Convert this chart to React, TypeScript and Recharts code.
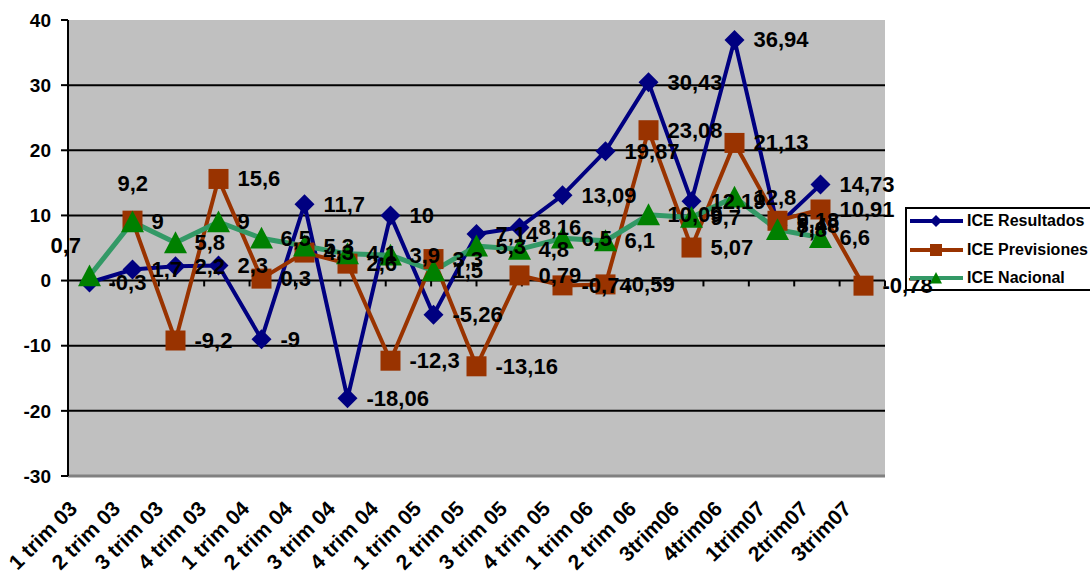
import {
  LineChart,
  Line,
  XAxis,
  YAxis,
  CartesianGrid,
  ReferenceArea,
  ReferenceLine,
  LabelList,
  Legend,
} from "recharts";

const categories = [
  "1 trim 03", "2 trim 03", "3 trim 03", "4 trim 03",
  "1 trim 04", "2 trim 04", "3 trim 04", "4 trim 04",
  "1 trim 05", "2 trim 05", "3 trim 05", "4 trim 05",
  "1 trim 06", "2 trim 06", "3trim06", "4trim06",
  "1trim07", "2trim07", "3trim07",
];
const resultados = [-0.3, 1.7, 2.2, 2.3, -9, 11.7, -18.06, 10, -5.26, 7.14, 8.16, 13.09, 19.87, 30.43, 12.19, 36.94, 8.48, 14.73, null];
const previsiones = [null, 9.2, -9.2, 15.6, 0.3, 4.3, 2.6, -12.3, 3.3, -13.16, 0.79, -0.74, -0.59, 23.08, 5.07, 21.13, 9.18, 10.91, -0.78];
const nacional = [0.7, 9, 5.8, 9, 6.5, 5.3, 4.1, 3.9, 1.5, 5.3, 4.8, 6.5, 6.1, 10.09, 9.7, 12.8, 7.8, 6.6, null];
const yTicks = [-30, -20, -10, 0, 10, 20, 30, 40];
const gridValues = [-20, -10, 0, 10, 20, 30];
const boundaries = [1, 2, 3, 4, 5, 6, 7, 8, 9, 10, 11, 12, 13, 14, 15, 16, 17, 18];

const RES = "#000080";
const PREV = "#993300";
const NAC_LINE = "#339966";
const NAC_MARK = "#008000";
const FONT = "'Liberation Sans', Arial, sans-serif";

const data = categories.map((cat, i) => ({
  cat,
  res: resultados[i],
  prev: previsiones[i],
  nac: nacional[i],
}));

function Diamond({ cx, cy, r = 10, color = RES }: any) {
  if (cx == null || cy == null) return <g />;
  return <path d={`M${cx},${cy - r} L${cx + r},${cy} L${cx},${cy + r} L${cx - r},${cy} Z`} fill={color} />;
}
function Square({ cx, cy, r = 10, color = PREV }: any) {
  if (cx == null || cy == null) return <g />;
  return <rect x={cx - r} y={cy - r} width={r * 2} height={r * 2} fill={color} />;
}
function Triangle({ cx, cy, r = 11.5, color = NAC_MARK }: any) {
  if (cx == null || cy == null) return <g />;
  return <path d={`M${cx},${cy - r} L${cx + r},${cy + r * 0.9} L${cx - r},${cy + r * 0.9} Z`} fill={color} />;
}

// label offsets that differ from the default "right of point"
const makeLabel = (overrides: Record<number, { dx: number; dy: number }>) => (props: any) => {
  const { x, y, value, index } = props;
  if (value == null || x == null) return null;
  const o = overrides[index] ?? { dx: 19, dy: 0 };
  return (
    <text
      x={x + o.dx}
      y={y + o.dy}
      dominantBaseline="central"
      fontSize={22}
      fontWeight="bold"
      fontFamily={FONT}
      fill="#000"
    >
      {String(value).replace(".", ",")}
    </text>
  );
};

function CategoryTick({ x, y, payload }: any) {
  const tx = x - 11;
  const ty = y + 34;
  return (
    <text
      x={tx}
      y={ty}
      transform={`rotate(-45 ${tx} ${ty})`}
      textAnchor="end"
      fontSize={21}
      fontWeight="bold"
      fontFamily={FONT}
      fill="#000"
    >
      {payload.value}
    </text>
  );
}

const legendItems = [
  { name: "ICE Resultados", line: RES, Marker: Diamond, color: RES },
  { name: "ICE Previsiones", line: PREV, Marker: Square, color: PREV },
  { name: "ICE Nacional", line: NAC_LINE, Marker: Triangle, color: NAC_MARK },
];

function LegendBox() {
  return (
    <div
      style={{
        border: "2px solid #000",
        background: "transparent",
        width: 200,
        height: 84,
        boxSizing: "border-box",
        overflow: "hidden",
      }}
    >
      <div style={{ marginTop: -2 }}>
        {legendItems.map(({ name, line, Marker, color }) => (
          <div key={name} style={{ display: "flex", alignItems: "center", height: 28.5 }}>
            <svg width={58} height={20} style={{ display: "block" }}>
              <line x1={3} x2={56} y1={10} y2={10} stroke={line} strokeWidth={4} />
              <Marker cx={29} cy={10} r={6} color={color} />
            </svg>
            <span style={{ font: `bold 16px ${FONT}`, marginLeft: 2, whiteSpace: "nowrap" }}>{name}</span>
          </div>
        ))}
      </div>
    </div>
  );
}

export default function App() {
  return (
    <div style={{ position: "absolute", left: 0, top: 0, width: 1090, height: 571, overflow: "hidden", background: "#fff" }}>
      <LineChart width={1090} height={571} data={data} margin={{ top: 20, right: 205, bottom: 0, left: 8 }}>
        <CartesianGrid
          horizontal
          vertical={false}
          horizontalValues={gridValues}
          stroke="#000"
          strokeWidth={2}
          fill="#c0c0c0"
          fillOpacity={1}
        />
        <XAxis
          dataKey="cat"
          interval={0}
          height={95}
          axisLine={false}
          tickLine={false}
          tickSize={0}
          tickMargin={0}
          padding={{ left: 21.5, right: 21.5 }}
          tick={<CategoryTick />}
        />
        <XAxis xAxisId="b" type="number" domain={[0, 19]} hide />
        <YAxis
          domain={[-30, 40]}
          ticks={yTicks}
          interval={0}
          width={60}
          axisLine={{ stroke: "#000", strokeWidth: 2 }}
          tickLine={{ stroke: "#000", strokeWidth: 2 }}
          tickSize={7}
          tickMargin={10}
          tick={{ fontSize: 19, fontWeight: "bold", fill: "#000", fontFamily: FONT }}
        />
        <ReferenceArea xAxisId="b" x1={0} x2={19} y1={-30} y2={40} fill="none" stroke="#808080" strokeWidth={2} />
        <ReferenceLine xAxisId="b" y={-30} stroke="#808080" strokeWidth={3} />
        <ReferenceLine xAxisId="b" x={0} stroke="#000" strokeWidth={2} />
        {boundaries.map((b) => (
          <ReferenceLine
            key={b}
            xAxisId="b"
            segment={[{ x: b, y: 0 }, { x: b, y: -0.9 }]}
            stroke="#000"
            strokeWidth={2}
          />
        ))}
        <Legend
          layout="vertical"
          align="center"
          verticalAlign="middle"
          content={<LegendBox />}
          wrapperStyle={{ position: "absolute", left: 905, top: 207, width: 200, height: 84 }}
        />
        <Line
          type="linear"
          dataKey="res"
          name="ICE Resultados"
          stroke={RES}
          strokeWidth={4}
          dot={(p: any) => <Diamond key={`d${p.index}`} cx={p.cx} cy={p.cy} />}
          activeDot={false}
          isAnimationActive={false}
        >
          <LabelList dataKey="res" content={makeLabel({})} />
        </Line>
        <Line
          type="linear"
          dataKey="prev"
          name="ICE Previsiones"
          stroke={PREV}
          strokeWidth={4}
          dot={(p: any) => <Square key={`s${p.index}`} cx={p.cx} cy={p.cy} />}
          activeDot={false}
          isAnimationActive={false}
        >
          <LabelList dataKey="prev" content={makeLabel({ 1: { dx: -15, dy: -37 } })} />
        </Line>
        <Line
          type="linear"
          dataKey="nac"
          name="ICE Nacional"
          stroke={NAC_LINE}
          strokeWidth={5}
          dot={(p: any) => <Triangle key={`t${p.index}`} cx={p.cx} cy={p.cy} />}
          activeDot={false}
          isAnimationActive={false}
        >
          <LabelList dataKey="nac" content={makeLabel({ 0: { dx: -39, dy: -31 } })} />
        </Line>
      </LineChart>
    </div>
  );
}
